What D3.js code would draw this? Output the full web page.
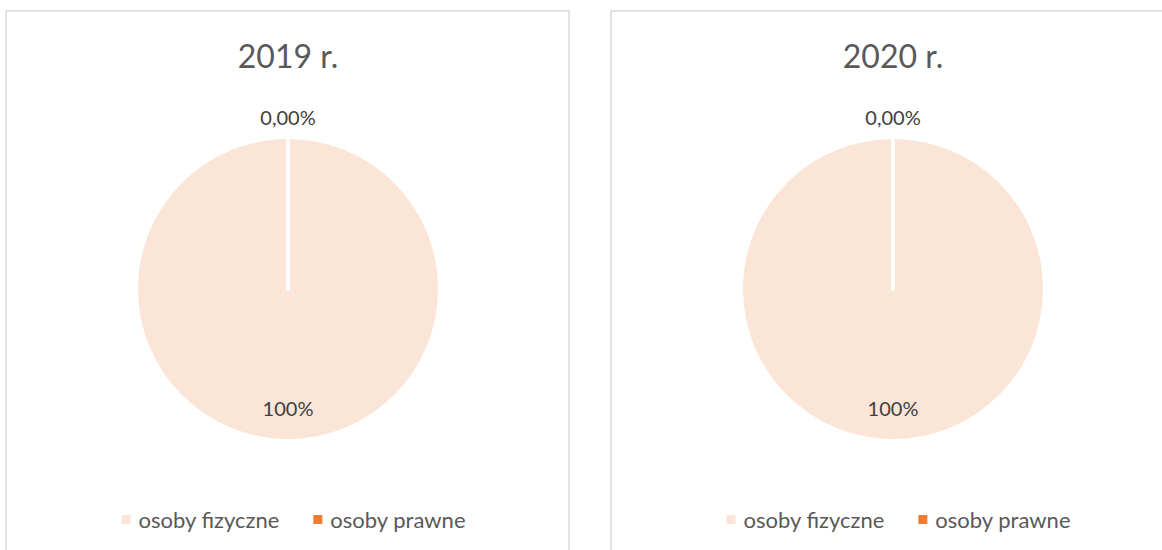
<!DOCTYPE html>
<html>
<head>
<meta charset="utf-8">
<script src="https://cdn.jsdelivr.net/npm/d3@7"></script>
<style>
  html, body { margin: 0; padding: 0; background: #ffffff; }
  svg { display: block; }
  text { font-family: Lato, "Open Sans", "Liberation Sans", sans-serif; }
</style>
</head>
<body>
<div id="chart"></div>
<script>
// ---- data ----
const years = ["2019 r.", "2020 r."];
const categories = ["osoby fizyczne", "osoby prawne"];
const values2019 = [100, 0];
const values2020 = [100, 0];
const labels2019 = ["100%", "0,00%"];
const labels2020 = ["100%", "0,00%"];

const seriesValues = [values2019, values2020];
const seriesLabels = [labels2019, labels2020];

// ---- layout ----
const W = 1162, H = 550;
const panels = [{ x: 6, y: 11, w: 563, h: 560 }, { x: 611, y: 11, w: 563, h: 560 }];
const colors = d3.scaleOrdinal().domain(categories).range(["#FBE5D6", "#ED7D31"]);

const svg = d3.select("#chart").append("svg").attr("width", W).attr("height", H);

const pie = d3.pie().sort(null).value(d => d.value);
const R = 152;
const arc = d3.arc().innerRadius(0).outerRadius(R);

panels.forEach((p, i) => {
  const g = svg.append("g").attr("transform", `translate(${p.x},${p.y})`);
  g.append("rect")
    .attr("x", 0).attr("y", 0).attr("width", p.w).attr("height", p.h)
    .attr("fill", "#ffffff").attr("stroke", "#D9D9D9").attr("stroke-width", 1.5);

  const cx = p.w / 2 + 0.5;
  g.append("text")
    .attr("x", cx).attr("y", 57)
    .attr("text-anchor", "middle")
    .attr("font-size", 32)
    .attr("fill", "#595959")
    .text(years[i]);

  const data = categories.map((c, k) => ({ cat: c, value: seriesValues[i][k], label: seriesLabels[i][k] }));
  const arcs = pie(data);

  const pg = g.append("g").attr("transform", `translate(${cx},${278})`);
  pg.selectAll("path.slice")
    .data(arcs)
    .join("path")
    .attr("class", "slice")
    .attr("d", arc)
    .attr("fill", d => colors(d.data.cat))
    .attr("stroke", "#ffffff")
    .attr("stroke-width", 4)
    .attr("stroke-linejoin", "round");

  const labelArc = d => {
    const r = d.data.value === 0 ? R + 19 : R * 0.79;
    return d3.arc().innerRadius(r).outerRadius(r);
  };
  pg.selectAll("text.lbl")
    .data(arcs)
    .join("text")
    .attr("class", "lbl")
    .attr("transform", d => `translate(${labelArc(d).centroid(d)})`)
    .attr("text-anchor", "middle")
    .attr("dy", "0.35em")
    .attr("font-size", 20)
    .attr("fill", "#404040")
    .text(d => d.data.label);

  // legend
  const lg = g.append("g").attr("transform", `translate(6,${509})`);
  const items = lg.selectAll("g.item").data(categories).join("g").attr("class", "item");
  items.append("rect")
    .attr("width", 9).attr("height", 9)
    .attr("y", -5)
    .attr("fill", d => colors(d));
  items.append("text")
    .attr("x", 17).attr("y", 0)
    .attr("dy", "0.35em")
    .attr("font-size", 22)
    .attr("fill", "#595959")
    .text(d => d);
  const widths = [];
  items.each(function () { widths.push(this.getBBox().width); });
  const gap = 34;
  const total = d3.sum(widths) + gap * (widths.length - 1);
  let xx = p.w / 2 - total / 2;
  items.attr("transform", (d, k) => {
    const t = `translate(${xx},0)`;
    xx += widths[k] + gap;
    return t;
  });
});
</script>
</body>
</html>
